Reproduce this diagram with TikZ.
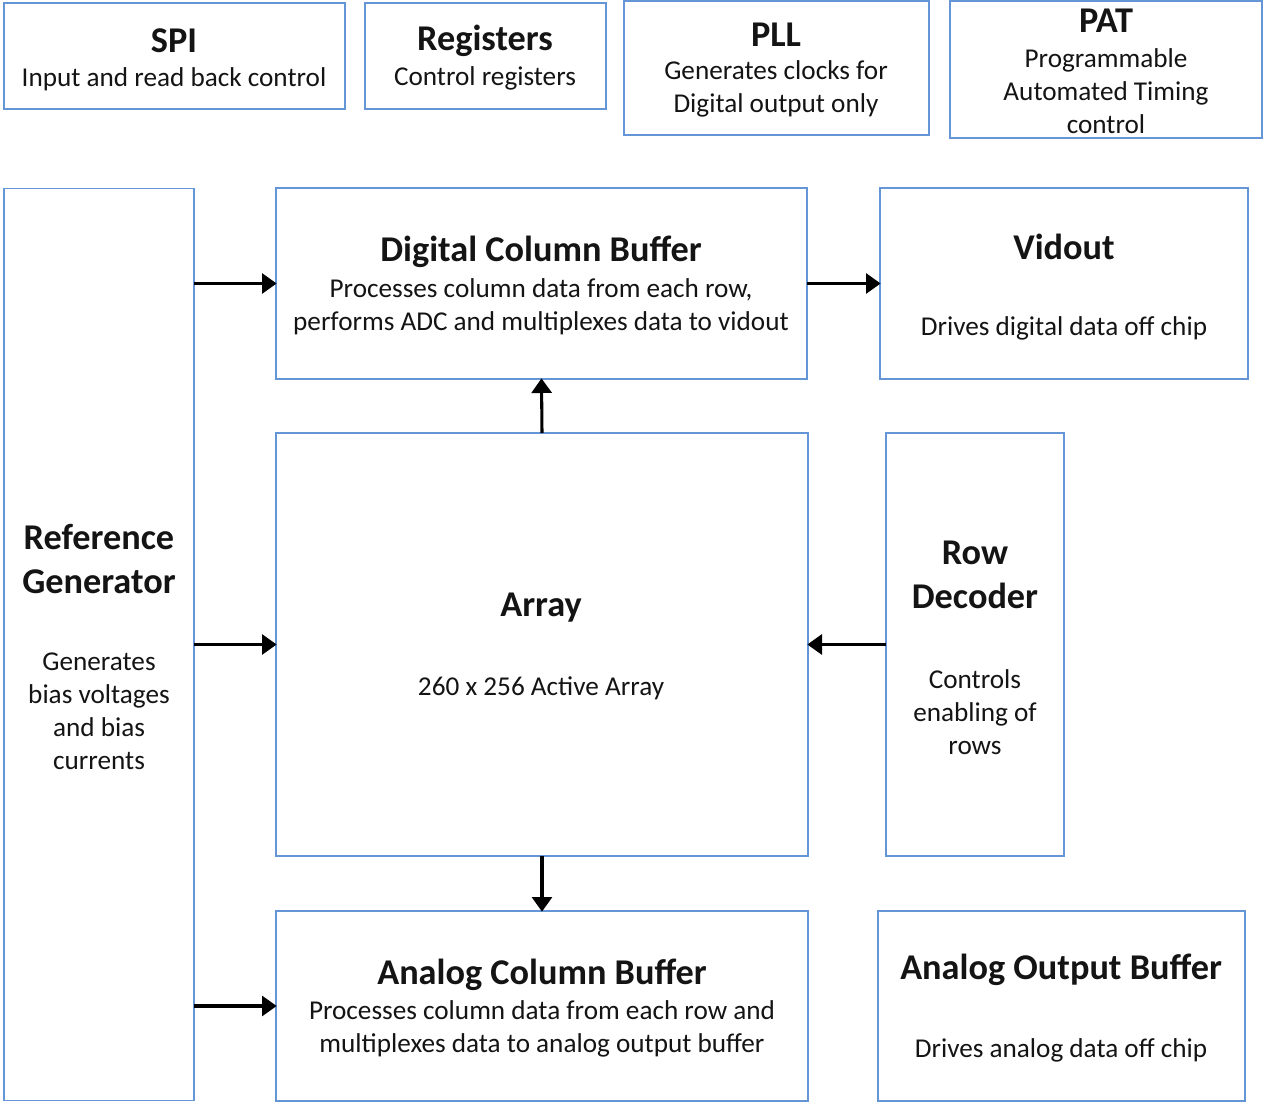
\documentclass[tikz,border=0pt]{standalone}
\usepackage{fontspec}
\setmainfont{Carlito}
\usetikzlibrary{arrows.meta}
\definecolor{bordercol}{RGB}{100,150,215}
\definecolor{txtcol}{RGB}{20,20,20}
\tikzset{
  blk/.style={draw=bordercol, line width=1.3pt, inner sep=0pt, outer sep=0pt, fill=white},
  ttl/.style={font=\fontsize{27.2}{33}\selectfont\bfseries, align=center, inner sep=0pt, text=txtcol},
  bdy/.style={font=\fontsize{20.4}{24.75}\selectfont, align=center, inner sep=0pt, text=txtcol},
  arr/.style={draw=black, line width=2.3pt, -{Triangle[length=11pt,width=15pt]}, shorten >=-0.5pt}
}
\begin{document}
\begin{tikzpicture}[x=0.75pt,y=-0.75pt]
\useasboundingbox (0,0) rectangle (1264,1102);
% boxes
\node[blk, minimum width=0.75*341pt, minimum height=0.75*106pt] (spi) at (174.5,56) {};
\node[blk, minimum width=0.75*241pt, minimum height=0.75*106pt] (reg) at (485.5,56) {};
\node[blk, minimum width=0.75*305pt, minimum height=0.75*134pt] (pll) at (776.5,68) {};
\node[blk, minimum width=0.75*312pt, minimum height=0.75*137pt] (pat) at (1106,69.5) {};
\node[blk, minimum width=0.75*190pt, minimum height=0.75*912pt] (refgen) at (99,644.5) {};
\node[blk, minimum width=0.75*531pt, minimum height=0.75*191pt] (dcb) at (541.5,283.5) {};
\node[blk, minimum width=0.75*368pt, minimum height=0.75*191pt] (vid) at (1064,283.5) {};
\node[blk, minimum width=0.75*532pt, minimum height=0.75*423pt] (arr) at (542,644.5) {};
\node[blk, minimum width=0.75*178pt, minimum height=0.75*423pt] (rowdec) at (975,644.5) {};
\node[blk, minimum width=0.75*532pt, minimum height=0.75*190pt] (acb) at (542,1006) {};
\node[blk, minimum width=0.75*367pt, minimum height=0.75*190pt] (aob) at (1061.5,1006) {};
% texts
\node[ttl] (spit) at (174,41) {SPI};
\node[bdy] (spib) at (174,79) {Input and read back control};
\node[ttl] (regt) at (485,41) {Registers};
\node[bdy] (regb) at (485,78) {Control registers};
\node[ttl] (pllt) at (776,35) {PLL};
\node[bdy] (pllb) at (776,89) {Generates clocks for\\Digital output only};
\node[ttl] (patt) at (1106,21) {PAT};
\node[bdy] (patb) at (1106,91) {Programmable\\Automated Timing\\control};
\node[ttl] (refgent) at (99,559) {Reference\\Generator};
\node[bdy] (refgenb) at (99,711.5) {Generates\\bias voltages\\and bias\\currents};
\node[ttl] (dcbt) at (541,252) {Digital Column Buffer};
\node[bdy] (dcbb) at (541,306.5) {Processes column data from each row,\\performs ADC and multiplexes data to vidout};
\node[ttl] (vidt) at (1064,247) {Vidout};
\node[bdy] (vidb) at (1064,328) {Drives digital data off chip};
\node[ttl] (arrt) at (541,608) {Array};
\node[bdy] (arrb) at (541,688) {260 x 256 Active Array};
\node[ttl] (rowdect) at (975,575) {Row\\Decoder};
\node[bdy] (rowdecb) at (975,712) {Controls\\enabling of\\rows};
\node[ttl] (acbt) at (542,975) {Analog Column Buffer};
\node[bdy] (acbb) at (542,1028.5) {Processes column data from each row and\\multiplexes data to analog output buffer};
\node[ttl] (aobt) at (1061,970) {Analog Output Buffer};
\node[bdy] (aobb) at (1061,1050) {Drives analog data off chip};
% connectors
\draw[arr] (refgen.east |- dcb.west) -- (dcb.west);
\draw[arr] (refgen.east |- arr.west) -- (arr.west);
\draw[arr] (refgen.east |- acb.west) -- (acb.west);
\draw[arr] (dcb.east) -- (vid.west);
\draw[arr] (arr.north) -- (dcb.south);
\draw[arr] (arr.south) -- (acb.north);
\draw[arr] (rowdec.west) -- (arr.east);
\end{tikzpicture}
\end{document}
